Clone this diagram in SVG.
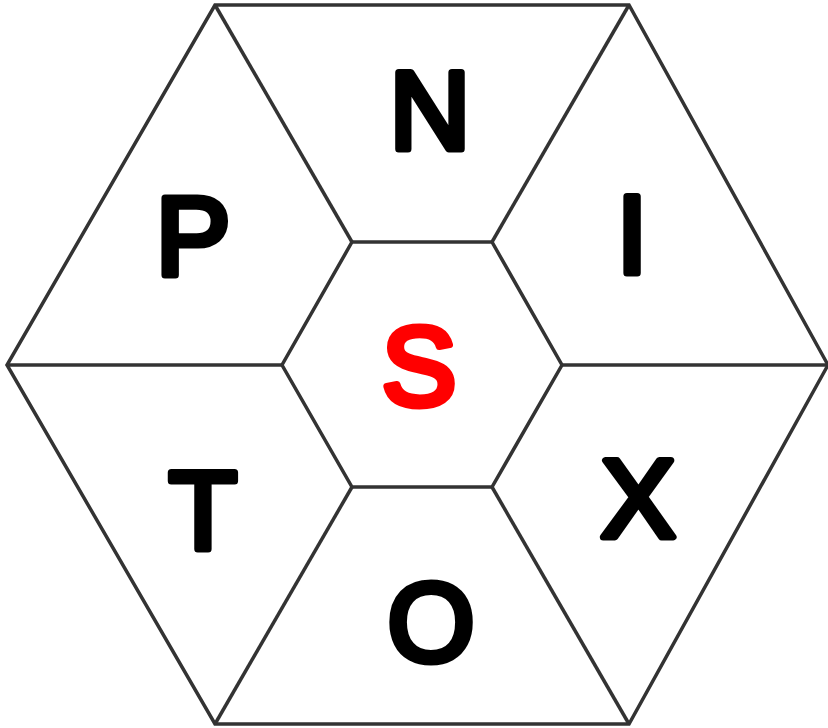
<svg xmlns="http://www.w3.org/2000/svg" width="828" height="728" viewBox="0 0 828 728">
<style>
.ln{fill:none;stroke:#333;stroke-width:3.5;stroke-linejoin:miter}
.lt{font-family:"Liberation Sans",Arial,sans-serif;font-weight:normal;font-size:112px;text-anchor:middle;fill:#000;stroke:#000;stroke-width:7;stroke-linejoin:round;stroke-linecap:round}
.red{fill:#f00;stroke:#f00}
</style>
<rect width="828" height="728" fill="#fff"/>
<g id="connectors">
<polygon class="ln" points="215,5 629,5 828,365 629,724 215,724 7,365"/>
<polygon class="ln" points="352,242 492,242 562,365 492,487 352,487 282,365"/>
<line class="ln" x1="215" y1="5" x2="352" y2="242"/>
<line class="ln" x1="629" y1="5" x2="492" y2="242"/>
<line class="ln" x1="828" y1="365" x2="562" y2="365"/>
<line class="ln" x1="629" y1="724" x2="492" y2="487"/>
<line class="ln" x1="215" y1="724" x2="352" y2="487"/>
<line class="ln" x1="7" y1="365" x2="282" y2="365"/>
</g>
<g id="N"><text class="lt" x="430" y="149">N</text></g>
<g id="P"><text class="lt" x="193" y="275">P</text></g>
<g id="I"><text class="lt" x="632" y="273">I</text></g>
<g id="S"><text class="lt red" x="419" y="405">S</text></g>
<g id="T"><text class="lt" x="203" y="549">T</text></g>
<g id="X"><text class="lt" x="638" y="537">X</text></g>
<g id="O"><text class="lt" x="431" y="661">O</text></g>
</svg>
